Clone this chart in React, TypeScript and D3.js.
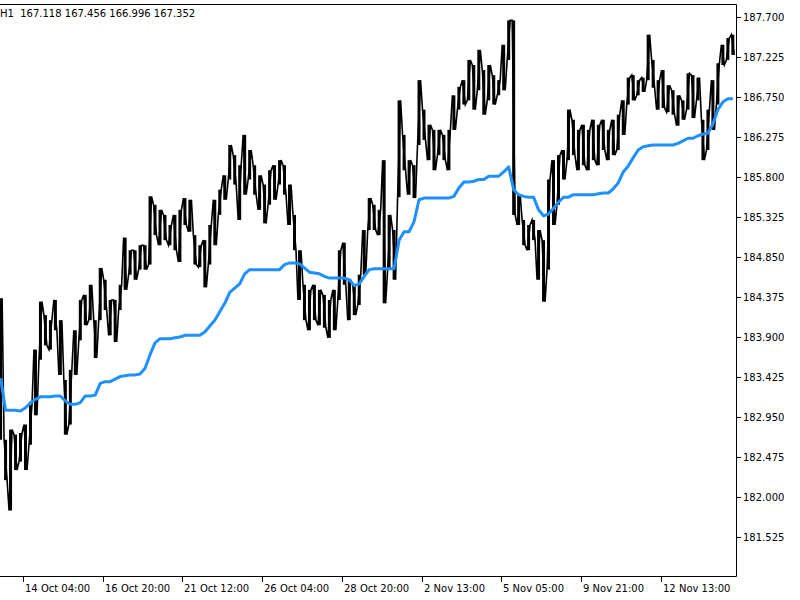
import * as d3 from 'd3';
import { useEffect } from 'react';

// H1 bars, one entry every 4 bars: high / low
const highs = [
	184.36, 182.68, 182.8, 182.74, 182.76, 182.86, 183.09, 183.75, 184.32, 184.16,
	184.1, 184.34, 184.1, 183.39, 183.51, 183.98, 184.34, 184.4, 184.52, 184.1,
	184.72, 184.58, 184.34, 184.34, 184.52, 185.08, 184.93, 184.93, 184.99, 184.99,
	185.57, 185.47, 185.41, 185.35, 185.23, 185.35, 185.41, 185.55, 185.53, 185.11,
	184.99, 185.05, 185.23, 185.53, 185.65, 185.82, 186.18, 186.06, 185.94, 186.3,
	186.12, 185.94, 185.82, 185.71, 185.88, 185.94, 186.0, 185.94, 185.71, 185.35,
	184.93, 184.52, 184.46, 184.52, 184.46, 184.4, 184.34, 184.46, 184.93, 185.02,
	184.58, 184.52, 184.64, 185.17, 185.55, 185.47, 185.41, 186.0, 185.35, 185.17,
	186.71, 186.3, 186.0, 185.94, 186.95, 186.6, 186.42, 186.36, 186.36, 186.3,
	186.36, 186.77, 186.87, 186.95, 187.19, 187.13, 187.31, 187.07, 187.13, 187.01,
	186.95, 187.37, 187.66, 187.66, 185.59, 185.29, 185.23, 185.29, 185.17, 185.05,
	185.77, 186.0, 186.06, 186.12, 186.6, 186.48, 186.36, 186.42, 186.36, 186.48,
	186.42, 186.48, 186.36, 186.48, 186.54, 186.71, 186.98, 187.01, 186.95, 186.98,
	187.49, 187.19, 186.95, 187.07, 186.89, 186.83, 186.77, 186.71, 187.03, 187.01,
	186.98, 186.48, 186.6, 186.95, 187.15, 187.37, 187.45, 187.49,
];
const lows = [
	182.68, 182.2, 181.84, 182.32, 182.42, 182.32, 182.62, 182.97, 183.63, 183.8,
	183.75, 183.98, 183.45, 182.74, 182.86, 183.45, 183.86, 184.04, 184.1, 183.65,
	184.1, 184.22, 183.92, 183.84, 184.22, 184.46, 184.64, 184.58, 184.7, 184.7,
	184.76, 185.11, 184.99, 185.05, 184.99, 184.93, 184.79, 185.23, 185.15, 184.76,
	184.73, 184.49, 184.76, 184.99, 185.35, 185.53, 185.77, 185.71, 185.29, 185.59,
	185.77, 185.59, 185.41, 185.25, 185.47, 185.53, 185.71, 185.59, 185.23, 184.93,
	184.34, 184.1, 183.98, 184.1, 184.04, 184.01, 183.89, 183.98, 184.34, 184.52,
	184.1, 184.16, 184.28, 184.64, 185.17, 185.17, 185.11, 184.3, 184.7, 184.58,
	185.56, 185.88, 185.59, 185.55, 186.18, 186.24, 186.0, 185.88, 186.06, 186.0,
	185.88, 186.36, 186.6, 186.66, 186.71, 186.6, 186.83, 186.54, 186.71, 186.66,
	186.77, 186.83, 187.19, 185.35, 185.23, 184.99, 184.93, 185.05, 184.58, 184.32,
	184.7, 185.23, 185.47, 185.77, 186.0, 186.06, 185.88, 185.94, 185.88, 186.0,
	185.94, 186.12, 186.0, 186.06, 186.12, 186.3, 186.66, 186.71, 186.77, 186.81,
	186.95, 186.86, 186.6, 186.62, 186.57, 186.54, 186.41, 186.48, 186.6, 186.5,
	186.71, 186.0, 186.12, 186.36, 186.66, 187.13, 187.19, 187.25,
];
// moving average (blue), same sampling
const ma = [
	183.41, 183.03, 183.03, 183.03, 183.02, 183.06, 183.12, 183.16, 183.19, 183.19,
	183.19, 183.2, 183.2, 183.14, 183.1, 183.1, 183.12, 183.2, 183.2, 183.21,
	183.35, 183.37, 183.37, 183.4, 183.43, 183.44, 183.45, 183.45, 183.46, 183.53,
	183.69, 183.83, 183.88, 183.88, 183.88, 183.89, 183.9, 183.92, 183.92, 183.92,
	183.92, 183.96, 184.03, 184.1, 184.2, 184.3, 184.43, 184.48, 184.53, 184.65,
	184.7, 184.7, 184.7, 184.7, 184.7, 184.7, 184.7, 184.76, 184.78, 184.78,
	184.77, 184.72, 184.67, 184.66, 184.65, 184.62, 184.6, 184.6, 184.6, 184.6,
	184.58, 184.51, 184.53, 184.62, 184.7, 184.71, 184.71, 184.71, 184.71, 184.71,
	185.05, 185.15, 185.15, 185.27, 185.53, 185.55, 185.55, 185.55, 185.55, 185.55,
	185.55, 185.57, 185.67, 185.74, 185.74, 185.75, 185.77, 185.77, 185.81, 185.81,
	185.81, 185.86, 185.92, 185.65, 185.59, 185.57, 185.56, 185.56, 185.41, 185.34,
	185.36, 185.43, 185.5, 185.56, 185.56, 185.59, 185.59, 185.59, 185.59, 185.59,
	185.6, 185.61, 185.61, 185.66, 185.73, 185.86, 185.93, 186.03, 186.12, 186.16,
	186.17, 186.18, 186.18, 186.18, 186.18, 186.18, 186.2, 186.23, 186.26, 186.26,
	186.29, 186.31, 186.32, 186.43, 186.6, 186.69, 186.73, 186.73,
];

const priceTicks = [
	181.525, 182.0, 182.475, 182.95, 183.425, 183.9, 184.375, 184.85, 185.325,
	185.8, 186.275, 186.75, 187.225, 187.7,
];
const timeLabels = [
	'14 Oct 04:00', '16 Oct 20:00', '21 Oct 12:00', '26 Oct 04:00', '28 Oct 20:00',
	'2 Nov 13:00', '5 Nov 05:00', '9 Nov 21:00', '12 Nov 13:00',
];
const timeLabelBars = [18, 82, 146, 210, 274, 338, 402, 466, 530];
const header = 'H1  167.118 167.456 166.996 167.352';

const BARS_PER_SAMPLE = 4;
const BAR_PX = 1.2453;
const FONT = '"DejaVu Sans", Tahoma, sans-serif';

export default function App() {
	useEffect(() => {
		document.body.style.margin = '0';
	}, []);

	const width = 800;
	const height = 600;
	const plotRight = 736;
	const plotTop = 4;
	const plotBottom = 576;

	const x = d3.scaleLinear().domain([0, 590]).range([0.6, 0.6 + 590 * BAR_PX]);
	const y = d3.scaleLinear().domain([181.525, 187.7]).range([537, 17]);

	const idx = highs.map((_, j) => j);

	// zigzag through high/low of each sample gives the ragged bar look
	const pts: [number, number][] = [];
	idx.forEach((j) => {
		const cx = x(j * BARS_PER_SAMPLE);
		if (j % 2 === 0) pts.push([cx - 1.5, y(lows[j])], [cx + 1.5, y(highs[j])]);
		else pts.push([cx - 1.5, y(highs[j])], [cx + 1.5, y(lows[j])]);
	});
	const zig = d3.line()(pts) ?? '';

	const maLine =
		d3
			.line<number>()
			.x((_, j) => x(j * BARS_PER_SAMPLE))
			.y((d) => y(d))(ma) ?? '';

	return (
		<svg width={width} height={height} style={{ display: 'block', background: '#fff' }}>
			<defs>
				<clipPath id="plot">
					<rect x={0} y={plotTop} width={plotRight} height={plotBottom - plotTop} />
				</clipPath>
			</defs>
			<g clipPath="url(#plot)">
				{idx.map((j) => (
					<line
						key={j}
						x1={x(j * BARS_PER_SAMPLE)}
						x2={x(j * BARS_PER_SAMPLE)}
						y1={y(highs[j])}
						y2={y(lows[j])}
						stroke="#000"
						strokeWidth={3}
					/>
				))}
				<path d={zig} fill="none" stroke="#000" strokeWidth={1.6} />
				<path d={maLine} fill="none" stroke="#1e90ff" strokeWidth={3} strokeLinejoin="round" />
			</g>

			{/* frame */}
			<path
				d={`M0,${plotTop + 0.5}H${plotRight + 0.5}V${plotBottom + 0.5}H0`}
				fill="none"
				stroke="#000"
				strokeWidth={1}
			/>

			{/* price axis */}
			{priceTicks.map((t) => (
				<g key={t} transform={`translate(${plotRight},${Math.round(y(t)) + 0.5})`}>
					<line x1={0} x2={5} stroke="#000" />
					<text x={7} dy="0.35em" fontFamily={FONT} fontSize={10} fill="#000">
						{t.toFixed(3)}
					</text>
				</g>
			))}

			{/* time axis */}
			{timeLabels.map((lab, i) => {
				const tx = Math.round(x(timeLabelBars[i])) + 0.5;
				return (
					<g key={lab}>
						<line x1={tx} x2={tx} y1={plotBottom} y2={plotBottom + 6} stroke="#000" />
						<text x={tx + 1.5} y={592} fontFamily={FONT} fontSize={10} fill="#000">
							{lab}
						</text>
					</g>
				);
			})}

			<text x={0} y={17} fontFamily={FONT} fontSize={10} fill="#000" xmlSpace="preserve">
				{header}
			</text>
		</svg>
	);
}
